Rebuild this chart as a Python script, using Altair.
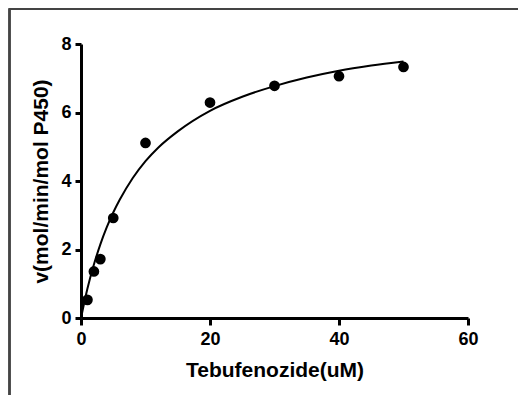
import altair as alt
import pandas as pd

# Measured data points
conc = [1, 2, 3, 5, 10, 20, 30, 40, 50]
rate = [0.53, 1.36, 1.72, 2.92, 5.11, 6.29, 6.78, 7.06, 7.33]

# Fitted curve
curve_x = [0, 1, 2, 3, 4, 5, 6, 8, 10, 12, 15, 20, 25, 30, 35, 40, 45, 50]
curve_y = [0, 0.86, 1.56, 2.15, 2.65, 3.08, 3.45, 4.08, 4.58, 4.98, 5.45,
           6.05, 6.46, 6.77, 7.02, 7.22, 7.37, 7.49]

x_ticks = [0, 20, 40, 60]
y_ticks = [0, 2, 4, 6, 8]

pts = pd.DataFrame({"x": conc, "y": rate})
crv = pd.DataFrame({"x": curve_x, "y": curve_y})

FONT = "Liberation Sans"

xs = alt.Scale(domain=[0, 60], nice=False, zero=True)
ys = alt.Scale(domain=[0, 8], nice=False, zero=True)

x_axis = alt.Axis(values=x_ticks, title="Tebufenozide(uM)", grid=False,
                  labelFlush=False, labelOverlap=False,
                  domainColor="black", domainWidth=3, tickColor="black",
                  tickWidth=3, tickSize=7, labelFont=FONT, labelFontSize=18,
                  labelFontWeight="bold", labelColor="black", labelPadding=5,
                  titleFont=FONT, titleFontSize=21, titleFontWeight="bold",
                  titleColor="black", titlePadding=11)
y_axis = alt.Axis(values=y_ticks, title="v(mol/min/mol P450)", grid=False,
                  labelFlush=False, labelOverlap=False,
                  domainColor="black", domainWidth=3, tickColor="black",
                  tickWidth=3, tickSize=6, labelFont=FONT, labelFontSize=18,
                  labelFontWeight="bold", labelColor="black", labelPadding=4,
                  titleFont=FONT, titleFontSize=21, titleFontWeight="bold",
                  titleColor="black", titlePadding=9)

line = alt.Chart(crv).mark_line(color="black", strokeWidth=2,
                                interpolate="monotone").encode(
    x=alt.X("x:Q", scale=xs, axis=x_axis),
    y=alt.Y("y:Q", scale=ys, axis=y_axis),
)
dots = alt.Chart(pts).mark_circle(color="black", opacity=1, size=115).encode(
    x=alt.X("x:Q", scale=xs),
    y=alt.Y("y:Q", scale=ys),
)

frame_left = alt.Chart(pts).mark_rule(color="#444444", strokeWidth=1.5).encode(
    x=alt.value(-71.5), y=alt.value(-35.5), y2=alt.value(360))
frame_top = alt.Chart(pts).mark_rule(color="#444444", strokeWidth=2).encode(
    x=alt.value(-71.5), x2=alt.value(440), y=alt.value(-35))

chart = alt.layer(frame_left, frame_top, line, dots).properties(
    width=387, height=274,
    autosize=alt.AutoSizeParams(type="none"),
    padding={"left": 73, "top": 36, "right": 50, "bottom": 77},
).configure_view(stroke=None)

chart.save("out.html", embed_options={"renderer": "svg", "actions": False})
